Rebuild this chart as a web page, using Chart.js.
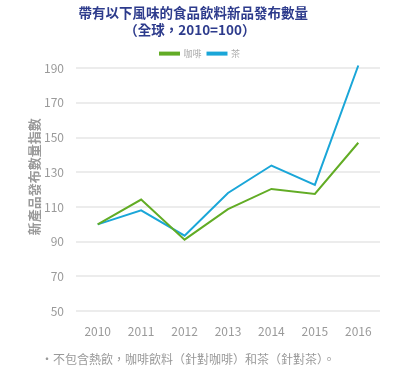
<!DOCTYPE html>
<html>
<head>
<meta charset="utf-8">
<script src="https://cdn.jsdelivr.net/npm/chart.js@4"></script>
<style>
  html, body { margin: 0; padding: 0; background: #fff; }
  #wrap { width: 400px; height: 375px; position: relative; }
</style>
</head>
<body>
<div id="wrap"><canvas id="chart" width="400" height="375"></canvas></div>
<script>
// 年份
const years = ['2010', '2011', '2012', '2013', '2014', '2015', '2016'];
// 咖啡 / 茶 指數 (2010=100)
const coffee = [100, 114.3, 91.2, 108.8, 120.4, 117.5, 147];
const tea = [100, 108.1, 93.5, 118.1, 133.9, 122.7, 191.5];
const yTicks = [50, 70, 90, 110, 130, 150, 170, 190];

const fontFam = '"Noto Sans CJK TC", "Noto Sans", sans-serif';
const green = '#62ac25';
const blue = '#1aa6d8';

new Chart(document.getElementById('chart'), {
    type: 'line',
    data: {
        labels: years,
        datasets: [
            { label: '咖啡', data: coffee, borderColor: green, backgroundColor: green, borderWidth: 2, pointRadius: 0, tension: 0 },
            // 2016 的茶略高於 190，不要裁掉
            { label: '茶', data: tea, borderColor: blue, backgroundColor: blue, borderWidth: 2, pointRadius: 0, tension: 0, clip: false }
        ]
    },
    options: {
        responsive: false,
        animation: false,
        layout: { padding: { left: 20, right: 20, top: 4, bottom: 2 } },
        plugins: {
            title: {
                display: true,
                // 尾部全形空格讓標題稍微偏左，和原圖一致
                text: ['帶有以下風味的食品飲料新品發布數量　', '（全球，2010=100）　　'],
                color: '#2d3b8c',
                font: { family: fontFam, size: 13.5, weight: 'bold', lineHeight: 1.3 },
                padding: { top: 0, bottom: 4 }
            },
            legend: {
                display: true,
                labels: {
                    boxWidth: 19, boxHeight: 2, color: '#aaaaaa',
                    font: { family: fontFam, size: 9 }, padding: 6
                }
            },
            subtitle: {
                display: true,
                position: 'bottom',
                text: '·不包含熱飲，咖啡飲料（針對咖啡）和茶（針對茶）。　　',
                color: '#999999',
                font: { family: fontFam, size: 12 },
                padding: { top: 9, bottom: 6 }
            },
            tooltip: { enabled: false }
        },
        scales: {
            x: {
                offset: true,
                grid: { display: false },
                border: { display: false },
                ticks: { color: '#9a9a9a', font: { family: fontFam, size: 12 }, padding: 5 }
            },
            y: {
                min: 50, max: 190,
                afterBuildTicks: axis => { axis.ticks = yTicks.map(v => ({ value: v })); },
                afterFit: axis => { axis.width = 56; },
                grid: { color: '#ececec', lineWidth: 2, drawTicks: false },
                border: { display: false },
                ticks: { color: '#9a9a9a', font: { family: fontFam, size: 12 }, padding: 12 },
                title: {
                    display: true,
                    text: '　　新產品發布數量指數',
                    color: '#9a9a9a',
                    font: { family: fontFam, size: 13, weight: 'bold' },
                    padding: { top: 6, bottom: 2 }
                }
            }
        }
    }
});
</script>
</body>
</html>
